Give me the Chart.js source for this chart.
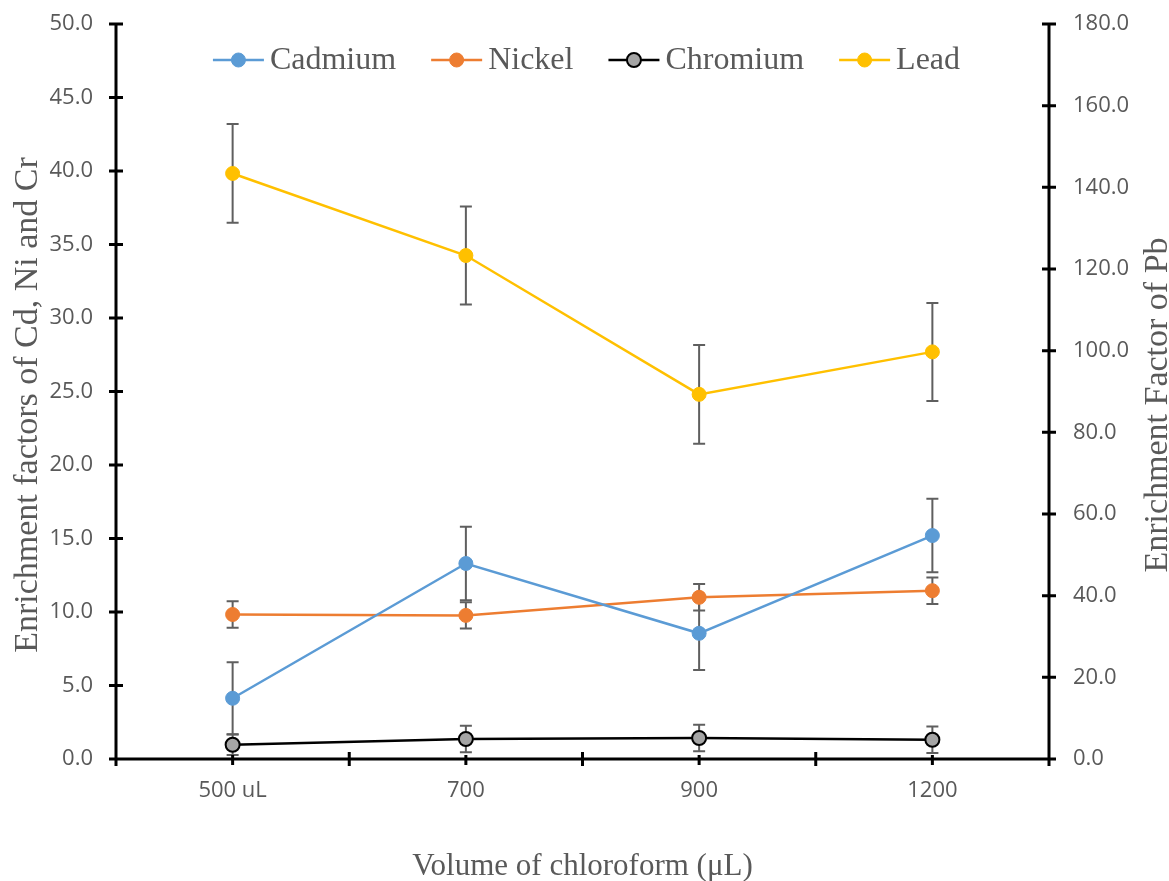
<!DOCTYPE html>
<html lang="en">
<head>
    <meta charset="UTF-8">
    <title>Enrichment factors vs volume of chloroform</title>
    <script src="https://cdn.jsdelivr.net/npm/chart.js"></script>
    <style>
        html, body {
            margin: 0;
            padding: 0;
            background-color: #fff;
        }
        .chart-container {
            position: relative;
            width: 1169px;
            height: 881px;
        }
    </style>
</head>
<body>
    <div class="chart-container">
        <canvas id="efChart"></canvas>
    </div>

    <script>
        // values
        const volumes = ['500 uL', '700', '900', '1200'];
        const cadmium = [4.13, 13.3, 8.55, 15.2];
        const cadmiumErr = [2.45, 2.5, 2.5, 2.5];
        const nickel = [9.83, 9.77, 11.0, 11.45];
        const nickelErr = [0.9, 0.9, 0.9, 0.9];
        const chromium = [0.97, 1.36, 1.43, 1.31];
        const chromiumErr = [0.7, 0.9, 0.9, 0.9];
        const lead = [143.4, 123.3, 89.3, 99.7];
        const leadErr = [12.1, 12.0, 12.1, 12.0];

        const leftTicks = { min: 0, max: 50, step: 5 };
        const rightTicks = { min: 0, max: 180, step: 20 };

        const textGray = '#595959';
        const serif = '"Liberation Serif", "Times New Roman", serif';

        Chart.defaults.font.family = '"Open Sans", sans-serif';

        // error bars, drawn behind the markers
        const errorBars = {
            id: 'errorBars',
            beforeDatasetsDraw(chart) {
                const ctx = chart.ctx;
                ctx.save();
                ctx.strokeStyle = '#5f5f5f';
                ctx.lineWidth = 2;
                chart.data.datasets.forEach((ds, i) => {
                    const meta = chart.getDatasetMeta(i);
                    const yScale = chart.scales[meta.yAxisID];
                    meta.data.forEach((pt, j) => {
                        const e = ds.errors[j];
                        const yTop = yScale.getPixelForValue(ds.data[j] + e);
                        const yBot = yScale.getPixelForValue(ds.data[j] - e);
                        ctx.beginPath();
                        ctx.moveTo(pt.x, yTop);
                        ctx.lineTo(pt.x, yBot);
                        ctx.moveTo(pt.x - 6, yTop);
                        ctx.lineTo(pt.x + 6, yTop);
                        ctx.moveTo(pt.x - 6, yBot);
                        ctx.lineTo(pt.x + 6, yBot);
                        ctx.stroke();
                    });
                });
                ctx.restore();
            }
        };

        // thick black axes with tick marks crossing the line
        const axesLines = {
            id: 'axesLines',
            afterDatasetsDraw(chart) {
                const ctx = chart.ctx;
                const a = chart.chartArea;
                const x = chart.scales.x;
                const y = chart.scales.y;
                const y1 = chart.scales.y1;
                ctx.save();
                ctx.strokeStyle = '#000';
                ctx.lineWidth = 3;
                ctx.lineCap = 'butt';
                ctx.beginPath();
                ctx.moveTo(a.left, a.top - 1);
                ctx.lineTo(a.left, a.bottom + 1);
                ctx.moveTo(a.right, a.top - 1);
                ctx.lineTo(a.right, a.bottom + 1);
                ctx.moveTo(a.left, a.bottom);
                ctx.lineTo(a.right, a.bottom);
                y.ticks.forEach(t => {
                    const p = y.getPixelForValue(t.value);
                    ctx.moveTo(a.left - 7, p);
                    ctx.lineTo(a.left + 7, p);
                });
                y1.ticks.forEach(t => {
                    const p = y1.getPixelForValue(t.value);
                    ctx.moveTo(a.right - 7, p);
                    ctx.lineTo(a.right + 7, p);
                });
                for (let i = 0; i <= volumes.length; i++) {
                    const p = x.getPixelForValue(i - 0.5);
                    ctx.moveTo(p, a.bottom - 7);
                    ctx.lineTo(p, a.bottom + 7);
                }
                for (let i = 0; i < volumes.length; i++) {
                    const p = x.getPixelForValue(i);
                    ctx.moveTo(p, a.bottom - 4);
                    ctx.lineTo(p, a.bottom + 6);
                }
                ctx.stroke();
                ctx.restore();
            }
        };

        // legend inside the plot + both vertical titles reading upwards
        const overlay = {
            id: 'overlay',
            afterDraw(chart) {
                const ctx = chart.ctx;
                const a = chart.chartArea;
                ctx.save();
                ctx.font = '32px ' + serif;
                ctx.textBaseline = 'middle';
                const sample = 51, gap = 6, spacing = 35;
                const items = chart.data.datasets.map(ds => ({ ds, w: ctx.measureText(ds.label).width }));
                let total = items.reduce((s, it) => s + sample + gap + it.w, 0) + spacing * (items.length - 1);
                let cx = (a.left + a.right) / 2 - total / 2 + 4;
                const cy = 60;
                items.forEach(it => {
                    const ds = it.ds;
                    ctx.strokeStyle = ds.borderColor;
                    ctx.lineWidth = 2.5;
                    ctx.beginPath();
                    ctx.moveTo(cx, cy);
                    ctx.lineTo(cx + sample, cy);
                    ctx.stroke();
                    ctx.beginPath();
                    ctx.arc(cx + sample / 2, cy, 7, 0, Math.PI * 2);
                    ctx.fillStyle = ds.pointBackgroundColor;
                    ctx.fill();
                    ctx.lineWidth = ds.pointBorderWidth;
                    ctx.strokeStyle = ds.pointBorderColor;
                    ctx.stroke();
                    ctx.fillStyle = textGray;
                    ctx.textAlign = 'left';
                    ctx.fillText(ds.label, cx + sample + gap, cy + 1);
                    cx += sample + gap + it.w + spacing;
                });

                ctx.font = '34px ' + serif;
                ctx.textAlign = 'center';
                ctx.textBaseline = 'alphabetic';
                const titles = [
                    { text: 'Enrichment factors of Cd, Ni and Cr', x: 37, y: 405 },
                    { text: 'Enrichment Factor of Pb', x: 1167, y: 405 }
                ];
                titles.forEach(t => {
                    ctx.save();
                    ctx.translate(t.x, t.y);
                    ctx.rotate(-Math.PI / 2);
                    ctx.fillText(t.text, 0, 0);
                    ctx.restore();
                });
                ctx.restore();
            }
        };

        const ctx = document.getElementById('efChart').getContext('2d');
        const efChart = new Chart(ctx, {
            type: 'line',
            data: {
                labels: volumes,
                datasets: [{
                    label: 'Cadmium',
                    data: cadmium,
                    errors: cadmiumErr,
                    borderColor: '#5B9BD5',
                    pointBackgroundColor: '#5B9BD5',
                    pointBorderColor: '#5B9BD5',
                    pointBorderWidth: 1,
                    yAxisID: 'y'
                }, {
                    label: 'Nickel',
                    data: nickel,
                    errors: nickelErr,
                    borderColor: '#ED7D31',
                    pointBackgroundColor: '#ED7D31',
                    pointBorderColor: '#ED7D31',
                    pointBorderWidth: 1,
                    yAxisID: 'y'
                }, {
                    label: 'Chromium',
                    data: chromium,
                    errors: chromiumErr,
                    borderColor: '#000000',
                    pointBackgroundColor: '#A5A5A5',
                    pointBorderColor: '#000000',
                    pointBorderWidth: 2,
                    yAxisID: 'y'
                }, {
                    label: 'Lead',
                    data: lead,
                    errors: leadErr,
                    borderColor: '#FFC000',
                    pointBackgroundColor: '#FFC000',
                    pointBorderColor: '#FFC000',
                    pointBorderWidth: 1,
                    yAxisID: 'y1'
                }]
            },
            options: {
                responsive: true,
                maintainAspectRatio: false,
                animation: false,
                elements: {
                    line: { borderWidth: 2.5, tension: 0 },
                    point: { radius: 7, hoverRadius: 7 }
                },
                layout: {
                    padding: { top: 24, left: 0, right: 0, bottom: 0 }
                },
                plugins: {
                    legend: { display: false },
                    tooltip: { enabled: false }
                },
                scales: {
                    x: {
                        offset: true,
                        grid: { display: false, drawTicks: false },
                        border: { display: false },
                        ticks: { color: textGray, font: { size: 22 }, padding: 19 },
                        title: {
                            display: true,
                            text: 'Volume of chloroform (μL)',
                            color: textGray,
                            font: { family: serif, size: 31 },
                            padding: { top: 0, bottom: -4 }
                        },
                        afterFit(scale) { scale.height = 122; }
                    },
                    y: {
                        position: 'left',
                        min: leftTicks.min,
                        max: leftTicks.max,
                        grid: { display: false, drawTicks: false },
                        border: { display: false },
                        ticks: {
                            stepSize: leftTicks.step,
                            color: textGray,
                            font: { size: 22 },
                            padding: 23,
                            callback: v => v.toFixed(1)
                        },
                        afterFit(scale) {
                            scale.width = 116;
                            scale.paddingTop = 0;
                            scale.paddingBottom = 0;
                        }
                    },
                    y1: {
                        position: 'right',
                        min: rightTicks.min,
                        max: rightTicks.max,
                        grid: { display: false, drawTicks: false },
                        border: { display: false },
                        ticks: {
                            stepSize: rightTicks.step,
                            color: textGray,
                            font: { size: 22 },
                            padding: 24,
                            callback: v => v.toFixed(1)
                        },
                        afterFit(scale) {
                            scale.width = 120;
                            scale.paddingTop = 0;
                            scale.paddingBottom = 0;
                        }
                    }
                }
            },
            plugins: [errorBars, axesLines, overlay]
        });
    </script>
</body>
</html>
